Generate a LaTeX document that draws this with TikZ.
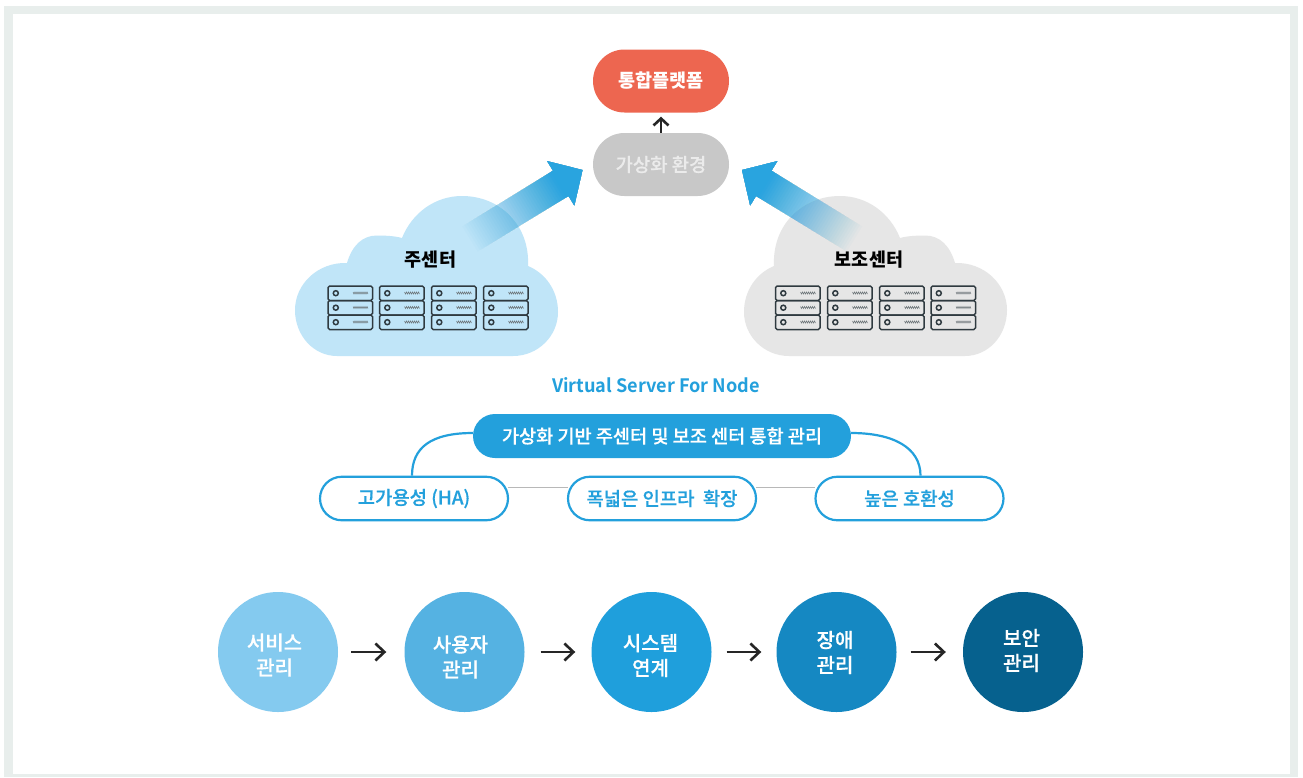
\documentclass[tikz,border=0pt]{standalone}
\usepackage{fontspec}
\setmainfont{Noto Sans CJK KR}
\newfontfamily\medfont[FakeBold=0.5]{Noto Sans CJK KR Medium}
\newfontfamily\titlefont[FakeStretch=0.98]{Noto Sans CJK KR Bold}
\usetikzlibrary{shapes.misc,arrows.meta,calc}
\definecolor{framegray}{HTML}{E8EEEC}
\definecolor{corered}{HTML}{ED6650}
\definecolor{coregray}{HTML}{C8C8C8}
\definecolor{mainblue}{HTML}{23A0DC}
\definecolor{arrowblue}{HTML}{29A4DF}
\definecolor{cloudblue}{HTML}{C0E5F8}
\definecolor{cloudgray}{HTML}{E6E6E6}
\definecolor{srv}{HTML}{2F3A40}
\definecolor{c1}{HTML}{84CAEF}
\definecolor{c2}{HTML}{55B2E2}
\definecolor{c3}{HTML}{1F9FDC}
\definecolor{c4}{HTML}{1588C2}
\definecolor{c5}{HTML}{06618E}
\tikzset{
  toppill/.style={shape=rounded rectangle,minimum width=136pt,minimum height=63pt,inner sep=0pt},
  outlinepill/.style={shape=rounded rectangle,draw=mainblue,line width=2.2pt,fill=white,minimum width=188pt,minimum height=43.5pt,inner sep=0pt,text=mainblue,font=\fontsize{18.8}{20}\medfont},
  bluecurve/.style={draw=mainblue,line width=2.2pt},
  thinline/.style={draw=black!28,line width=.8pt},
  stepdisc/.style={circle,minimum size=120pt,inner sep=0pt},
  steptext/.style={align=center,text=white,inner sep=0pt,font=\fontsize{20}{25}\medfont},
  steparrow/.style={draw=black!85,line width=2.6pt,-{Straight Barb[length=9pt,width=17pt,line width=2.6pt]}},
  cloudlabel/.style={text=black,inner sep=0pt,font=\fontsize{18.5}{20}\selectfont\bfseries},
  serverunit/.pic={
    \foreach \r in {0,14.5,29}{
      \draw[srv,line width=1.5pt,rounded corners=1.6pt] (0,\r) rectangle (44.5,\r+14.5);
      \draw[srv,line width=1.5pt] (7.8,\r+7.2) circle (2.5);
      \draw[srv!70,line width=.5pt] (25,\r+6)--(26,\r+8)--(27,\r+6)--(28,\r+8)--(29,\r+6)--(30,\r+8)--(31,\r+6)--(32,\r+8)--(33,\r+6)--(34,\r+8)--(35,\r+6)--(36,\r+8)--(37,\r+6)--(38,\r+8)--(39,\r+6)--(40,\r+8);
    }
  },
  flowarrow/.pic={
    \foreach \k in {1,...,40}{
      \pgfmathsetmacro{\a}{1/(41-\k)}
      \pgfmathsetmacro{\t}{-132+(\k-1)*2.66}
      \fill[arrowblue,fill opacity=\a]
        (0,0)--(-25.5,26)--(-25.5,14.8)--(\t,14.8)--(\t,-14.8)--(-25.5,-14.8)--(-25.5,-26)--cycle;
    }
  }
}
\newcommand{\cloudshape}{(337,356) -- (513,356) .. controls (538,356) and (558,336) .. (558,312) .. controls (558,290) and (545,273) .. (528,266) .. controls (530,225) and (500,196) .. (462,196) .. controls (435,196) and (412,213) .. (402,238) .. controls (395,236) and (385,235.5) .. (377,235.5) .. controls (362,235.5) and (352,246) .. (347,263) .. controls (318,262) and (295,284) .. (295,310) .. controls (295,336) and (314,356) .. (337,356) -- cycle}
\begin{document}
\begin{tikzpicture}[x=1pt,y=-1pt]
\useasboundingbox (0,0) rectangle (1303,777);
\fill[white] (0,0) rectangle (1303,777);
\fill[framegray] (4,6) rectangle (1298,777);
\fill[white] (13,14) rectangle (1290,774);

% clouds
\fill[cloudblue] \cloudshape;
\begin{scope}[xshift=1302pt,xscale=-1]
\fill[cloudgray] \cloudshape;
\end{scope}

% gradient arrows
\pic[rotate=31.5] at (582.5,170) {flowarrow};
\pic[rotate=148.5] at (742,170) {flowarrow};

% servers
\foreach \x in {328,379.5,431.5,483.5,775.5,827.5,879.5,931}{
  \pic at (\x,286) {serverunit};
}

\node[cloudlabel] (cloudA) at (430.5,260) {주센터};
\node[cloudlabel] (cloudB) at (869,260) {보조센터};

% top pills
\node[toppill,fill=corered,text=white,font=\fontsize{18.5}{20}\selectfont\bfseries] (platform) at (661,81) {통합플랫폼};
\node[toppill,fill=coregray,text=white!92!black,font=\fontsize{18.8}{20}\medfont] (virt) at (661,164.5) {\raisebox{-3.5pt}{가상화 환경}};
\draw[draw=black!85,line width=2.6pt,shorten >=4pt,-{Straight Barb[length=7pt,width=15pt,line width=2.6pt]}] (virt.north) -- (platform.south);

% title
\node[text=mainblue,inner sep=0pt,font=\fontsize{18.5}{20}\titlefont] (title) at (656,385) {Virtual Server For Node};

% management pills
\node[shape=rounded rectangle,fill=mainblue,text=white,minimum width=378pt,minimum height=44pt,inner sep=0pt,font=\fontsize{18.6}{20}\medfont] (mgmt) at (662,436) {가상화 기반 주센터 및 보조 센터 통합 관리};
\node[outlinepill] (ha) at (414,498.5) {\raisebox{-2pt}{고가용성 (HA)}};
\node[outlinepill] (infra) at (662,498.5) {\raisebox{-2pt}{폭넓은 인프라\ \ 확장}};
\node[outlinepill] (compat) at (909.5,498.5) {\raisebox{-2pt}{높은 호환성}};
\draw[bluecurve] ([yshift=3pt]mgmt.west) .. controls +(-42,0) and +(0,-28) .. ([xshift=-2pt]ha.north);
\draw[bluecurve] ([yshift=3pt]mgmt.east) .. controls +(42,0) and +(0,-28) .. ([xshift=11pt]compat.north);
\draw[thinline] ([xshift=-1pt,yshift=11.5pt]ha.east) -- ([xshift=1pt,yshift=11.5pt]infra.west);
\draw[thinline] ([xshift=-1pt,yshift=11.5pt]infra.east) -- ([xshift=1pt,yshift=11.5pt]compat.west);

% steps
\node[stepdisc,fill=c1] (s1) at (278,652) {};
\node[stepdisc,fill=c2] (s2) at (464.5,652) {};
\node[stepdisc,fill=c3] (s3) at (651.5,652) {};
\node[stepdisc,fill=c4] (s4) at (836.5,652) {};
\node[stepdisc,fill=c5] (s5) at (1023,652) {};
\node[steptext] (t1) at (274.5,655) {서비스\\관리};
\node[steptext] (t2) at (460.5,657) {사용자\\관리};
\node[steptext] (t3) at (650.5,655.5) {시스템\\연계};
\node[steptext] (t4) at (835,652.5) {장애\\관리};
\node[steptext] (t5) at (1021.5,650.5) {보안\\관리};
\draw[steparrow,shorten <=13pt,shorten >=18pt] (s1) -- (s2);
\draw[steparrow,shorten <=16pt,shorten >=16pt] (s2) -- (s3);
\draw[steparrow,shorten <=15pt,shorten >=15pt] (s3) -- (s4);
\draw[steparrow,shorten <=14pt,shorten >=17pt] (s4) -- (s5);
\end{tikzpicture}
\end{document}
